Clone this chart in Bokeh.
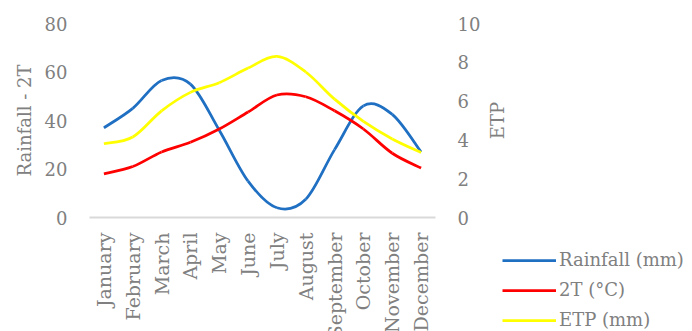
import math

from bokeh.embed import file_html
from bokeh.layouts import row
from bokeh.models import (ColumnDataSource, FixedTicker, Label, Legend,
                          LegendItem, LinearAxis, Range1d)
from bokeh.plotting import figure
from bokeh.resources import INLINE

# Monthly climate data
months = ["January", "February", "March", "April", "May", "June", "July",
          "August", "September", "October", "November", "December"]
rainfall = [37, 45, 56.5, 55, 36, 15, 4, 7.5, 28, 46, 42.5, 27]       # mm
two_t = [18, 21, 27, 31, 36.5, 43.5, 50.5, 49.8, 44, 36.5, 26.5, 20.4]  # 2 x °C
etp = [3.8, 4.15, 5.5, 6.45, 6.95, 7.7, 8.3, 7.5, 6.1, 4.95, 4.05, 3.35]  # mm

left_ticks = [0, 20, 40, 60, 80]
right_ticks = [0, 2, 4, 6, 8, 10]

FONT = "DejaVu Serif"
TEXT_COLOR = "#808080"
FONT_SIZE = "18px"

MAIN_W, TOTAL_W, H, TOP = 484, 692, 331, 23


def smooth_segments(ys):
    """Cubic Bezier segments through each point (Catmull-Rom style tangents)."""
    xs = list(range(len(ys)))
    n = len(xs)
    d = dict(x0=[], y0=[], x1=[], y1=[], cx0=[], cy0=[], cx1=[], cy1=[])
    for i in range(n - 1):
        pm = max(i - 1, 0)
        pp = min(i + 2, n - 1)
        d["x0"].append(xs[i])
        d["y0"].append(ys[i])
        d["x1"].append(xs[i + 1])
        d["y1"].append(ys[i + 1])
        d["cx0"].append(xs[i] + (xs[i + 1] - xs[pm]) / 6)
        d["cy0"].append(ys[i] + (ys[i + 1] - ys[pm]) / 6)
        d["cx1"].append(xs[i + 1] - (xs[pp] - xs[i]) / 6)
        d["cy1"].append(ys[i + 1] - (ys[pp] - ys[i]) / 6)
    return ColumnDataSource(d)


# ---- main chart -------------------------------------------------------------
p = figure(width=MAIN_W, height=H, frame_width=346, frame_height=194,
           x_range=Range1d(-0.5, 11.5), y_range=Range1d(0, 80),
           output_backend="svg", toolbar_location=None,
           min_border_left=89, min_border_right=0,
           min_border_top=TOP, min_border_bottom=0)
p.outline_line_color = None
p.xgrid.visible = False
p.ygrid.visible = False
p.extra_y_ranges = {"etp": Range1d(0, 10)}

# Month axis along the bottom
xa = p.xaxis[0]
xa.ticker = FixedTicker(ticks=list(range(len(months))))
xa.major_label_overrides = {i: m for i, m in enumerate(months)}
xa.major_label_orientation = math.pi / 2
xa.axis_line_color = "#d9d9d9"
xa.axis_line_width = 2
xa.major_tick_line_color = None
xa.minor_tick_line_color = None
xa.major_tick_out = 0
xa.major_tick_in = 0
xa.major_label_standoff = 15
xa.major_label_text_font = FONT
xa.major_label_text_font_size = "19px"
xa.major_label_text_color = TEXT_COLOR

# Left axis: rainfall and 2T
ya = p.yaxis[0]
ya.ticker = FixedTicker(ticks=left_ticks)
ya.axis_line_color = None
ya.major_tick_line_color = None
ya.minor_tick_line_color = None
ya.major_tick_out = 0
ya.major_tick_in = 0
ya.major_label_standoff = 22
ya.major_label_text_font = FONT
ya.major_label_text_font_size = FONT_SIZE
ya.major_label_text_color = TEXT_COLOR
ya.axis_label = "Rainfall - 2T"
ya.axis_label_standoff = 7
ya.axis_label_text_font = FONT
ya.axis_label_text_font_size = FONT_SIZE
ya.axis_label_text_font_style = "normal"
ya.axis_label_text_color = TEXT_COLOR

# Right axis: ETP values
ra = LinearAxis(y_range_name="etp", ticker=FixedTicker(ticks=right_ticks))
ra.axis_line_color = None
ra.major_tick_line_color = None
ra.minor_tick_line_color = None
ra.major_tick_out = 0
ra.major_tick_in = 0
ra.major_label_standoff = 22
ra.major_label_text_font = FONT
ra.major_label_text_font_size = FONT_SIZE
ra.major_label_text_color = TEXT_COLOR
p.add_layout(ra, "right")

series = [
    ("Rainfall (mm)", rainfall, "#1f6fc2", "default"),
    ("2T (°C)", two_t, "#ff0000", "default"),
    ("ETP (mm)", etp, "#ffff00", "etp"),
]
LINE_W = 2.75

sources = []
for label, ys, color, yr in series:
    src = smooth_segments(ys)
    sources.append(src)
    p.bezier(x0="x0", y0="y0", x1="x1", y1="y1",
             cx0="cx0", cy0="cy0", cx1="cx1", cy1="cy1",
             source=src, line_color=color,
             line_width=LINE_W, y_range_name=yr)

# ---- side strip: ETP axis title and legend ----------------------------------
# Its frame runs from the shared top border down to the bottom of the page,
# with one data unit per pixel (y measured up from the page bottom).
side_w = TOTAL_W - MAIN_W
side_h = H - TOP
s = figure(width=side_w, height=H, frame_width=side_w, frame_height=side_h,
           x_range=Range1d(0, side_w), y_range=Range1d(0, side_h),
           output_backend="svg", title=None, toolbar_location=None,
           x_axis_location=None, y_axis_location=None,
           min_border_left=0, min_border_right=0,
           min_border_top=TOP, min_border_bottom=0)
s.outline_line_color = None
s.grid.visible = False
# swatch renderers live on a range far outside the strip, only the legend shows them
s.extra_y_ranges = {"off": Range1d(-1000, -900)}

s.add_layout(Label(x=498 - MAIN_W, y=H - 120, text="ETP", angle=math.pi / 2,
                   text_align="center", text_baseline="middle",
                   text_font=FONT, text_font_size=FONT_SIZE,
                   text_color=TEXT_COLOR))

items = []
for (label, ys, color, yr), src in zip(series, sources):
    swatch = s.bezier(x0="x0", y0="y0", x1="x1", y1="y1",
                      cx0="cx0", cy0="cy0", cx1="cx1", cy1="cy1",
                      source=src, line_color=color, line_width=LINE_W,
                      y_range_name="off")
    items.append(LegendItem(label=label, renderers=[swatch], index=0))

legend = Legend(items=items, location=(503 - MAIN_W, 1),
                glyph_width=54, glyph_height=20, label_height=20,
                spacing=9, padding=0, margin=0, label_standoff=3,
                border_line_color=None, background_fill_alpha=0,
                label_text_font=FONT, label_text_font_size=FONT_SIZE,
                label_text_color=TEXT_COLOR)
s.add_layout(legend)

layout = row(p, s, spacing=0)
open("out.html", "w").write(file_html(layout, INLINE))
